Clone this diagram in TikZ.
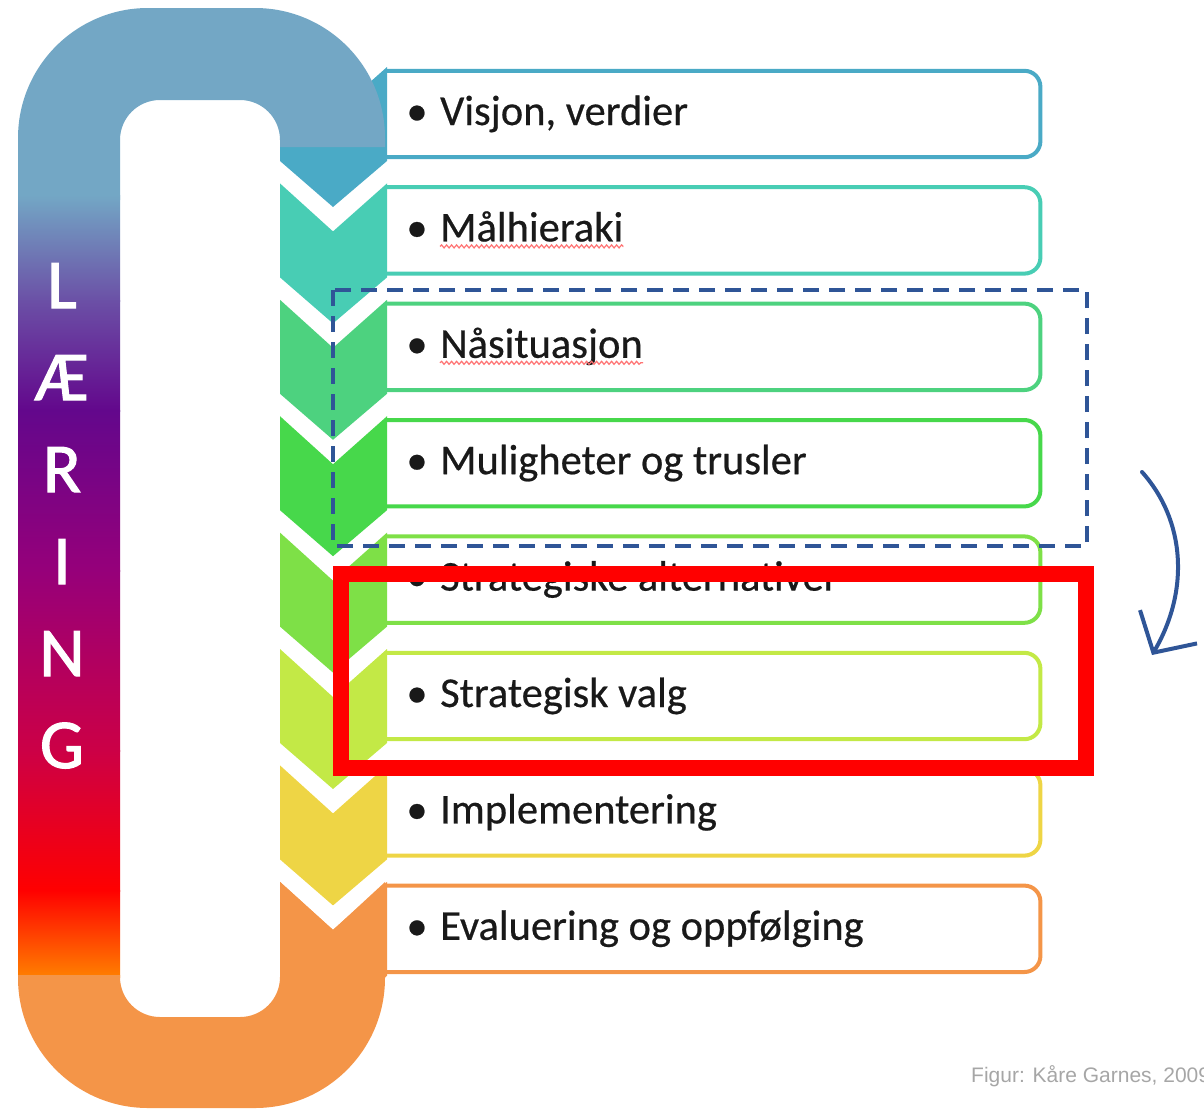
\documentclass[tikz,border=0pt]{standalone}
\usepackage{fontspec}
\setmainfont{Carlito}
\newfontfamily\notefont{Liberation Sans}
\newfontfamily\heavyfont[FakeBold=1.6]{Carlito}
\newfontfamily\itemfont[FakeBold=0.5]{Carlito}
\usetikzlibrary{arrows.meta,decorations.pathmorphing}
\definecolor{c1}{HTML}{4AAAC6}
\definecolor{c2}{HTML}{48CDB4}
\definecolor{c3}{HTML}{4DD27F}
\definecolor{c4}{HTML}{47D84B}
\definecolor{c5}{HTML}{7EE047}
\definecolor{c6}{HTML}{C3E946}
\definecolor{c7}{HTML}{EED545}
\definecolor{c8}{HTML}{F49548}
\definecolor{bandtop}{HTML}{73A7C5}
\definecolor{g1}{HTML}{6B50A6}
\definecolor{g2}{HTML}{63078C}
\definecolor{g3}{HTML}{96007A}
\definecolor{g4}{HTML}{CC0046}
\definecolor{g5}{HTML}{FF0000}
\definecolor{g6}{HTML}{FF7F00}
\definecolor{framecol}{HTML}{2F5597}
\definecolor{notegray}{HTML}{A6A6A6}
\begin{document}
\begin{tikzpicture}[x=1pt, y=-1pt,
  stepbox/.style={minimum width=655pt, minimum height=86pt, inner sep=0pt, fill=white, anchor=west},
  boxline/.style={line width=4pt, rounded corners=16pt},
  itemtext/.style={font=\itemfont\fontsize{42.5}{50}\selectfont, text=black!90, inner sep=0pt},
  letter/.style={font=\heavyfont\fontsize{70}{80}\selectfont, text=white, inner sep=0pt, anchor=base},
  squiggle/.style={draw=red!55, line width=1.2pt, decorate, decoration={snake, amplitude=1.5pt, segment length=5pt}},
  noteline/.style={font=\notefont\fontsize{21}{24}\selectfont, text=notegray, inner sep=0pt}
]
  \useasboundingbox (0,0) rectangle (1204,1114);

  \foreach \i/\txt in {1/{Visjon, verdier},2/Målhieraki,3/Nåsituasjon,4/Muligheter og trusler,
      5/Strategiske alternativer,6/Strategisk valg,7/Implementering,8/Evaluering og oppfølging}{
    \pgfmathsetmacro\rowtop{67+116.4*(\i-1)}
    \node[stepbox] (box\i) at (385,\rowtop+47) {};
    \draw[boxline, c\i] (box\i.north west) -- (box\i.north east) -- (box\i.south east) -- (box\i.south west);
    \fill[c\i] (280,\rowtop) -- (333,\rowtop+48) -- (387,\rowtop) -- (387,\rowtop+94)
      -- (333,\rowtop+140) -- (280,\rowtop+94) -- cycle;
    \node[itemtext, anchor=base] (dot\i) at (417,\rowtop+58) {\textbullet};
    \node[itemtext, anchor=base west] (item\i) at (440,\rowtop+58) {\txt};
  }
  \foreach \i in {2,3}
    \draw[squiggle] ([yshift=-5pt]item\i.base west) -- ([yshift=-5pt]item\i.base east);

  \fill[bandtop] (18,200) -- (18,138) arc[start angle=180, end angle=270, radius=130]
    -- (255,8) arc[start angle=270, end angle=360, radius=130] -- (385,147) -- (280,147)
    -- (280,140) arc[start angle=0, end angle=-90, radius=40]
    -- (160,100) arc[start angle=270, end angle=180, radius=40] -- (120,200) -- cycle;
  \foreach \ya/\yb/\ca/\cb in {195/300/bandtop/g1,300/410/g1/g2,410/570/g2/g3,
      570/750/g3/g4,750/890/g4/g5,890/976/g5/g6}
    \shade[top color=\ca, bottom color=\cb] (18,\ya) rectangle (120,\yb+1);
  \fill[c8] (280,882) -- (333,930) -- (385,882) -- (385,978) arc[start angle=0, end angle=90, radius=130]
    -- (148,1108) arc[start angle=90, end angle=180, radius=130] -- (18,975) -- (120,975)
    -- (120,977) arc[start angle=180, end angle=90, radius=40]
    -- (240,1017) arc[start angle=90, end angle=0, radius=40] -- cycle;

  \foreach \ltr [count=\k] in {L,Æ,R,I,N,G}
    \node[letter] (learn\k) at (62,308+92*\k-92) {\ltr};

  \draw[framecol, line width=3.5pt, dash pattern=on 16pt off 10pt] (333,290) rectangle (1087,546);
  \draw[red, line width=16pt] (341,574) rectangle (1086,768);

  \coordinate (turnstart) at (1142,472);
  \coordinate (turnend) at (1152,655);
  \draw[framecol, line width=4pt, line cap=round, -{Straight Barb[length=30pt, width=66pt, line width=4pt]}]
    (turnstart) .. controls (1185,520) and (1190,590) .. (turnend);

  \node[noteline, anchor=base west] (credit) at (971,1082) {Figur: Kåre Garnes, 2009};
\end{tikzpicture}
\end{document}
